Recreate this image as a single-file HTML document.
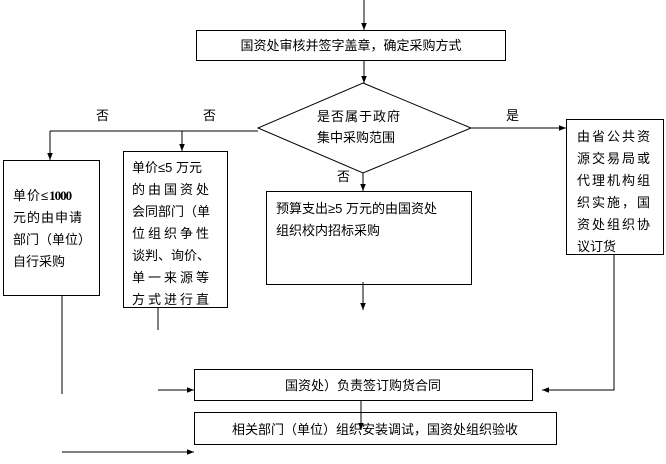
<!DOCTYPE html>
<html><head><meta charset="utf-8"><style>
body{margin:0;background:#fff;}
svg text{font-family:"Liberation Sans","Noto Sans CJK SC","WenQuanYi Zen Hei",sans-serif;font-size:13px;fill:#000;}
</style></head><body>
<svg width="666" height="459" viewBox="0 0 666 459" xmlns="http://www.w3.org/2000/svg">
<defs><marker id="a" viewBox="0 0 10 10" refX="10" refY="5" markerWidth="7" markerHeight="7" orient="auto"><path d="M0,1 L10,5 L0,9 z" fill="#000"/></marker></defs>
<g stroke="#000" stroke-width="1" fill="none">
<line x1="364" y1="0" x2="364" y2="30" marker-end="url(#a)"/>
<rect x="196.5" y="30.5" width="309" height="30" fill="#fff"/>
<line x1="364" y1="60" x2="364" y2="83" marker-end="url(#a)"/>
<polygon points="363,83 471,128 363,173 258,128" fill="#fff"/>
<line x1="258" y1="131" x2="50" y2="131"/>
<line x1="50" y1="131" x2="50" y2="160" marker-end="url(#a)"/>
<line x1="182" y1="131" x2="182" y2="151" marker-end="url(#a)"/>
<rect x="3.5" y="160.5" width="96" height="135"/>
<rect x="123.5" y="151.5" width="104" height="156"/>
<line x1="363" y1="173" x2="363" y2="191" marker-end="url(#a)"/>
<rect x="266.5" y="191.5" width="205" height="93"/>
<line x1="363" y1="282" x2="363" y2="310" marker-end="url(#a)"/>
<line x1="471" y1="128" x2="566" y2="128" marker-end="url(#a)"/>
<rect x="566.5" y="119.5" width="97" height="135"/>
<polyline points="614,254 614,390 542,390" marker-end="url(#a)"/>
<line x1="62" y1="295" x2="62" y2="394"/>
<line x1="158" y1="307" x2="158" y2="330"/>
<line x1="158" y1="390" x2="194" y2="390" marker-end="url(#a)"/>
<rect x="194.5" y="369.5" width="338" height="31"/>
<rect x="194.5" y="412.5" width="362" height="32"/>
<line x1="361" y1="400" x2="361" y2="430" marker-end="url(#a)"/>
<line x1="62" y1="452" x2="194" y2="452" marker-end="url(#a)"/>
</g>
<text x="351" y="50" text-anchor="middle">国资处审核并签字盖章，确定采购方式</text>
<text x="317" y="121" letter-spacing="1">是否属于政府</text>
<text x="317" y="142">集中采购范围</text>
<text x="96" y="120">否</text>
<text x="203" y="120">否</text>
<text x="337" y="181">否</text>
<text x="506" y="120">是</text>
<text x="13" y="200" letter-spacing="1">单价≤<tspan font-weight="bold" font-family="Liberation Serif" letter-spacing="-1">1000</tspan></text>
<text x="13" y="222" letter-spacing="1">元的由申请</text>
<text x="13" y="244">部门（单位）</text>
<text x="13" y="266">自行采购</text>
<text x="132" y="172">单价≤5 万元</text>
<text x="132" y="194" letter-spacing="3">的由国资处</text>
<text x="132" y="216">会同部门（单</text>
<text x="132" y="238" letter-spacing="3">位组织争性</text>
<text x="132" y="260">谈判、询价、</text>
<text x="132" y="282" letter-spacing="3">单一来源等</text>
<text x="132" y="304" letter-spacing="3">方式进行直</text>
<text x="276" y="213">预算支出≥5 万元的由国资处</text>
<text x="276" y="235">组织校内招标采购</text>
<text x="577" y="141" letter-spacing="2">由省公共资</text>
<text x="577" y="163" letter-spacing="2">源交易局或</text>
<text x="577" y="185" letter-spacing="2">代理机构组</text>
<text x="577" y="207" letter-spacing="2">织实施，国</text>
<text x="577" y="229" letter-spacing="2">资处组织协</text>
<text x="577" y="251">议订货</text>
<text x="363" y="390" text-anchor="middle">国资处）负责签订购货合同</text>
<text x="375" y="434" text-anchor="middle">相关部门（单位）组织安装调试，国资处组织验收</text>
</svg>
</body></html>
